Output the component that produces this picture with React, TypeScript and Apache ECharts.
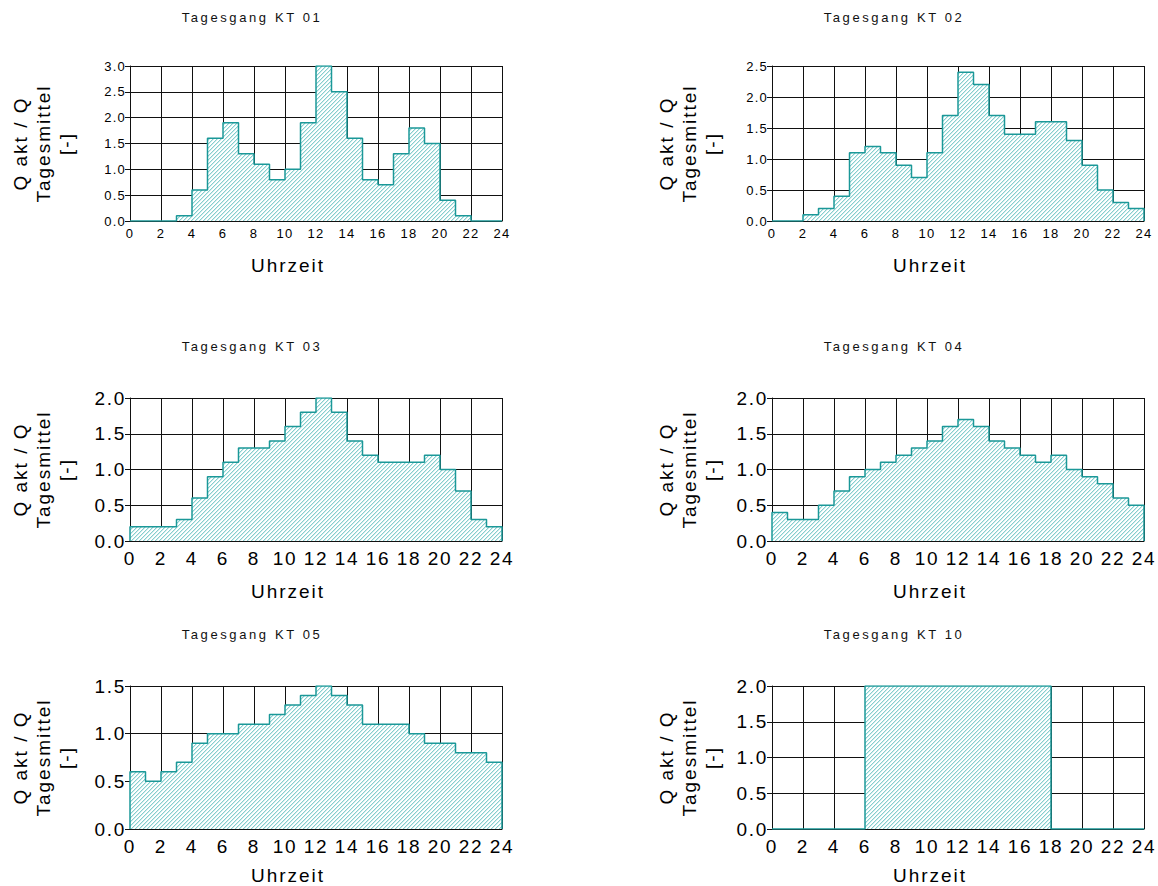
import React, { useEffect, useRef } from 'react';
import * as echarts from 'echarts';

// ---- data (hourly values, hour h covers h..h+1) ----
const hours = [0, 1, 2, 3, 4, 5, 6, 7, 8, 9, 10, 11, 12, 13, 14, 15, 16, 17, 18, 19, 20, 21, 22, 23];
const dayEnd = 24;
const xTicks = [0, 2, 4, 6, 8, 10, 12, 14, 16, 18, 20, 22, 24];

const titles = ['Tagesgang KT 01', 'Tagesgang KT 02', 'Tagesgang KT 03', 'Tagesgang KT 04', 'Tagesgang KT 05', 'Tagesgang KT 10'];

const kt01 = [0, 0, 0, 0.1, 0.6, 1.6, 1.9, 1.3, 1.1, 0.8, 1.0, 1.9, 3.0, 2.5, 1.6, 0.8, 0.7, 1.3, 1.8, 1.5, 0.4, 0.1, 0, 0];
const kt02 = [0, 0, 0.1, 0.2, 0.4, 1.1, 1.2, 1.1, 0.9, 0.7, 1.1, 1.7, 2.4, 2.2, 1.7, 1.4, 1.4, 1.6, 1.6, 1.3, 0.9, 0.5, 0.3, 0.2];
const kt03 = [0.2, 0.2, 0.2, 0.3, 0.6, 0.9, 1.1, 1.3, 1.3, 1.4, 1.6, 1.8, 2.0, 1.8, 1.4, 1.2, 1.1, 1.1, 1.1, 1.2, 1.0, 0.7, 0.3, 0.2];
const kt04 = [0.4, 0.3, 0.3, 0.5, 0.7, 0.9, 1.0, 1.1, 1.2, 1.3, 1.4, 1.6, 1.7, 1.6, 1.4, 1.3, 1.2, 1.1, 1.2, 1.0, 0.9, 0.8, 0.6, 0.5];
const kt05 = [0.6, 0.5, 0.6, 0.7, 0.9, 1.0, 1.0, 1.1, 1.1, 1.2, 1.3, 1.4, 1.5, 1.4, 1.3, 1.1, 1.1, 1.1, 1.0, 0.9, 0.9, 0.8, 0.8, 0.7];
const kt10 = [0, 0, 0, 0, 0, 0, 2.0, 2.0, 2.0, 2.0, 2.0, 2.0, 2.0, 2.0, 2.0, 2.0, 2.0, 2.0, 0, 0, 0, 0, 0, 0];

const seriesValues = [kt01, kt02, kt03, kt04, kt05, kt10];
const yMaxes = [3.0, 2.5, 2.0, 2.0, 1.5, 2.0];
const yInterval = 0.5;

const yAxisName = 'Q akt / Q\nTagesmittel\n[-]';
const xAxisName = 'Uhrzeit';

// ---- layout ----
const W = 1158;
const H = 886;
const colLeft = [130, 772];
const plotW = 372;
const rowTop = [66, 398, 686];
const rowH = [155, 143, 143];
const titleY = [17, 346, 634];
const xNameY = [265, 591, 875];
const titleCx = [252, 894];
const xNameCx = [288, 930];
const yNameGap = [52, 48];
const tickFont = [13, 19, 19];
const xLabelMargin = [6, 8, 8];

const TEAL = '#1b9898';
const GRID = '#111111';
const FONT = 'Liberation Sans, Arial, sans-serif';

function makeHatch(n: number): string {
  const c = document.createElement('canvas');
  c.width = n;
  c.height = n;
  const ctx = c.getContext('2d') as CanvasRenderingContext2D;
  const img = ctx.createImageData(n, n);
  for (let y = 0; y < n; y++) {
    for (let x = 0; x < n; x++) {
      const k = (y * n + x) * 4;
      const d = (x + y) % n;
      let r = 255, g = 255, b = 255;
      if (d === n - 1) {
        r = 0x86; g = 0xce; b = 0xce;
      } else if (d === 0) {
        r = 0xd0; g = 0xed; b = 0xed;
      }
      img.data[k] = r;
      img.data[k + 1] = g;
      img.data[k + 2] = b;
      img.data[k + 3] = 255;
    }
  }
  ctx.putImageData(img, 0, 0);
  return c.toDataURL();
}

function applySpacing(root: HTMLElement | null) {
  if (!root) return;
  const texts = root.querySelectorAll('text');
  texts.forEach((t) => {
    const s = (t.textContent || '').trim();
    const st = t.getAttribute('style') || '';
    let ls = st.indexOf('19px') >= 0 ? '1.7' : '1.2';
    if (s.indexOf('Tagesgang') === 0) ls = '2.6';
    else if (s === xAxisName || yAxisName.split('\n').indexOf(s) >= 0) ls = '2';
    t.setAttribute('letter-spacing', ls);
  });
}

export default function App() {
  const ref = useRef<HTMLDivElement>(null);

  useEffect(() => {
    document.body.style.margin = '0';
    if (!ref.current) return;
    const chart = echarts.init(ref.current, undefined, { renderer: 'svg' });
    const hatch = makeHatch(4);

    const grids: any[] = [];
    const xAxes: any[] = [];
    const yAxes: any[] = [];
    const series: any[] = [];
    const graphics: any[] = [];

    seriesValues.forEach((vals, i) => {
      const col = i % 2;
      const row = Math.floor(i / 2);
      grids.push({ left: colLeft[col], top: rowTop[row], width: plotW, height: rowH[row], containLabel: false });
      xAxes.push({
        type: 'value',
        gridIndex: i,
        min: xTicks[0],
        max: xTicks[xTicks.length - 1],
        interval: 2,
        axisLine: { show: true, onZero: false, lineStyle: { color: GRID, width: 1 } },
        axisTick: { show: false },
        splitLine: { show: true, lineStyle: { color: GRID, width: 1 } },
        axisLabel: { fontSize: tickFont[row], color: '#000', margin: xLabelMargin[row], fontFamily: FONT, showMinLabel: true, showMaxLabel: true },
      });
      yAxes.push({
        type: 'value',
        gridIndex: i,
        min: 0,
        max: yMaxes[i],
        interval: yInterval,
        axisLine: { show: true, lineStyle: { color: GRID, width: 1 } },
        axisTick: { show: true, length: 5, lineStyle: { color: GRID, width: 1 } },
        splitLine: { show: true, lineStyle: { color: GRID, width: 1 } },
        axisLabel: {
          fontSize: tickFont[row],
          color: '#000',
          margin: 4,
          fontFamily: FONT,
          formatter: (v: number) => v.toFixed(1),
        },
        name: yAxisName,
        nameLocation: 'middle',
        nameRotate: 90,
        nameGap: yNameGap[col],
        nameTextStyle: { fontSize: 19, lineHeight: 23, color: '#000', fontFamily: FONT },
      });
      const data: number[][] = [[hours[0], 0]];
      hours.forEach((h) => data.push([h, vals[h]]));
      data.push([dayEnd, vals[vals.length - 1]]);
      data.push([dayEnd, 0]);
      series.push({
        type: 'line',
        xAxisIndex: i,
        yAxisIndex: i,
        data,
        step: 'end',
        showSymbol: false,
        symbol: 'none',
        lineStyle: { color: TEAL, width: 1.5 },
        areaStyle: {
          color: { image: hatch, repeat: 'repeat', imageWidth: 4, imageHeight: 4 },
          opacity: 1,
        },
        z: 3,
        silent: true,
      });
      graphics.push({
        type: 'text',
        x: titleCx[col],
        y: titleY[row],
        style: {
          text: titles[i],
          fontSize: 13,
          fontFamily: FONT,
          fill: '#111',
          textAlign: 'center',
          textVerticalAlign: 'middle',
        },
      });
      graphics.push({
        type: 'text',
        x: xNameCx[col],
        y: xNameY[row],
        style: {
          text: xAxisName,
          fontSize: 19,
          fontFamily: FONT,
          fill: '#000',
          textAlign: 'center',
          textVerticalAlign: 'middle',
        },
      });
    });

    chart.setOption({
      animation: false,
      backgroundColor: '#ffffff',
      grid: grids,
      xAxis: xAxes,
      yAxis: yAxes,
      series,
      graphic: graphics,
    });

    const zr: any = chart.getZr();
    if (zr && zr.flush) zr.flush();
    applySpacing(ref.current);
    const raf = requestAnimationFrame(() => applySpacing(ref.current));
    const tm = setTimeout(() => applySpacing(ref.current), 60);

    return () => {
      cancelAnimationFrame(raf);
      clearTimeout(tm);
      chart.dispose();
    };
  }, []);

  return <div ref={ref} style={{ width: W, height: H }} />;
}
